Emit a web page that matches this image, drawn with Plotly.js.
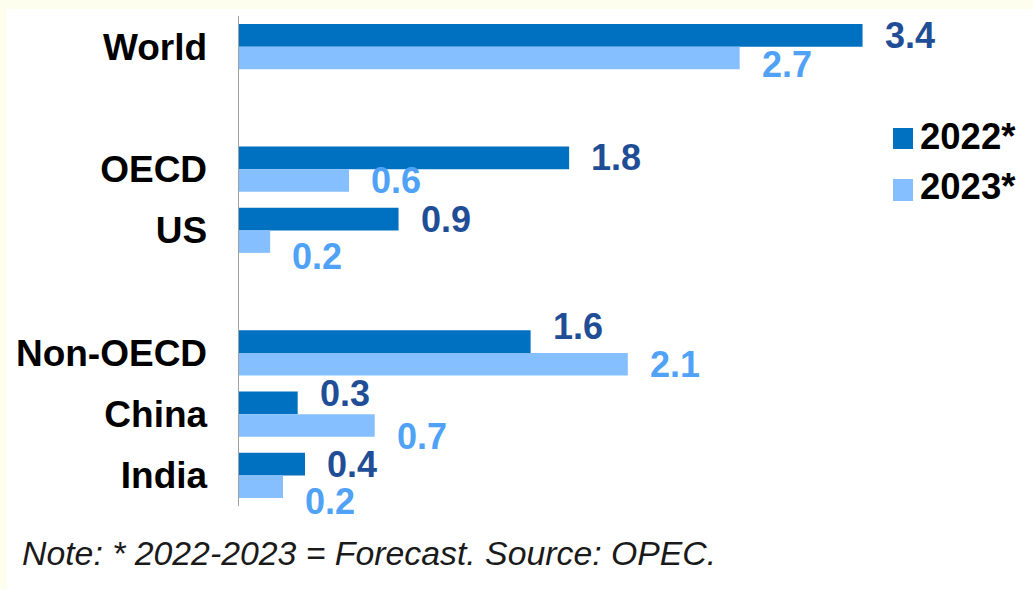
<!DOCTYPE html>
<html>
<head>
<meta charset="utf-8">
<script src="https://cdn.plot.ly/plotly-3.0.1.min.js"></script>
<style>
  html, body { margin: 0; padding: 0; background: #FEFEEE; width: 1033px; height: 589px; overflow: hidden; }
  #chart { position: absolute; left: 7px; top: 9px; width: 1026px; height: 580px; background: #ffffff; }
</style>
</head>
<body>
<div id="chart"></div>
<script>
// ---- data ----
const categories = ['World', ' ', 'OECD', 'US', '  ', 'Non-OECD', 'China', 'India'];
const seriesNames = ['2022*', '2023*'];
const values2022 = [3.40, null, 1.80, 0.87, null, 1.59, 0.32, 0.36];
const values2023 = [2.73, null, 0.60, 0.17, null, 2.12, 0.74, 0.24];
const noteText = 'Note: * 2022-2023 = Forecast. Source: OPEC.';

// ---- styling ----
const dark = '#0070C0', light = '#85BFFF';
const darkText = '#1F4E96', lightText = '#4FA2F6';
const W = 1026, H = 580;
const M = {l: 232, r: 60, t: 7, b: 83};
const plotW = W - M.l - M.r, plotH = H - M.t - M.b;
const bargap = 0.265;
const slot = plotH / categories.length;
const barPx = slot * (1 - bargap) / 2;
// manual label nudges (px, positive = down), like hand-moved data labels
const nudge2022 = [0, 0, 0, 0, 0, -15, -9, 0];
const nudge2023 = [7, 0, 0, 15, 0, 0, 11, 15];

const FONT = 'Liberation Sans, Arial, sans-serif';

const traces = [
  {type: 'bar', orientation: 'h', name: seriesNames[0], y: categories, x: values2022,
   marker: {color: dark}, hoverinfo: 'x+y'},
  {type: 'bar', orientation: 'h', name: seriesNames[1], y: categories, x: values2023,
   marker: {color: light}, hoverinfo: 'x+y'}
];

const annotations = [];
function addLabels(vals, color, sign, nudges) {
  vals.forEach((v, i) => {
    if (v === null) return;
    annotations.push({
      x: v, y: categories[i], xref: 'x', yref: 'y',
      text: v.toFixed(1), showarrow: false,
      xanchor: 'left', yanchor: 'middle',
      xshift: 20, yshift: -(sign * barPx / 2 + nudges[i]),
      font: {family: FONT, size: 36, color: color, weight: 'bold'}
    });
  });
}
addLabels(values2022, darkText, -1, nudge2022);
addLabels(values2023, lightText, 1, nudge2023);

// helpers: div pixel -> paper
const px = x => (x - M.l) / plotW;
const py = y => 1 - (y - M.t) / plotH;

// custom legend
const legendRows = [
  {name: seriesNames[0], color: dark, top: 119, bottom: 140, cy: 127},
  {name: seriesNames[1], color: light, top: 170, bottom: 192, cy: 178}
];
const shapes = [];
legendRows.forEach(r => {
  shapes.push({type: 'rect', xref: 'paper', yref: 'paper',
    x0: px(886), x1: px(906), y0: py(r.bottom), y1: py(r.top),
    fillcolor: r.color, line: {width: 0}});
  annotations.push({xref: 'paper', yref: 'paper', x: px(911), y: py(r.cy),
    xanchor: 'left', yanchor: 'middle', showarrow: false, text: r.name,
    font: {family: FONT, size: 36.5, color: '#000000', weight: 'bold'}});
});

annotations.push({xref: 'paper', yref: 'paper', x: px(13), y: py(544),
  xanchor: 'left', yanchor: 'middle', showarrow: false, text: noteText,
  font: {family: FONT, size: 33.8, color: '#1a1a1a', style: 'italic'}});

const layout = {
  width: W, height: H,
  margin: M,
  paper_bgcolor: '#ffffff', plot_bgcolor: '#ffffff',
  barmode: 'group', bargap: bargap, bargroupgap: 0,
  showlegend: false,
  xaxis: {range: [0, plotW / 183.4], visible: false, showgrid: false, zeroline: false, fixedrange: true},
  yaxis: {type: 'category', categoryorder: 'array', categoryarray: categories,
    range: [categories.length - 0.5, -0.5], autorange: false,
    showgrid: false, zeroline: false,
    showline: true, linecolor: '#A0A0A0', linewidth: 1.5,
    ticks: '', ticklabelstandoff: 23,
    tickfont: {family: FONT, size: 37, color: '#000000', weight: 'bold'}},
  annotations: annotations,
  shapes: shapes,
  font: {family: FONT}
};

Plotly.newPlot('chart', traces, layout, {displayModeBar: false, staticPlot: true});
</script>
</body>
</html>
